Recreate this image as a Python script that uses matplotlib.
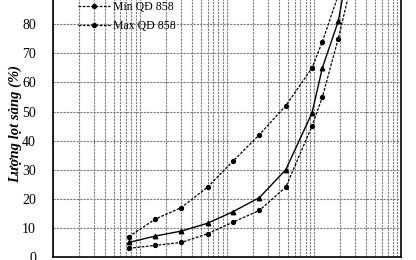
"""Grading curve (lượng lọt sàng) against the QĐ 858 envelope."""

import matplotlib
matplotlib.use("Agg")
import matplotlib.pyplot as plt

plt.rcParams["font.family"] = ["Liberation Serif", "DejaVu Serif"]

# sieve sizes (mm) and percent passing
sieve_mm = [0.075, 0.15, 0.3, 0.6, 1.18, 2.36, 4.75, 9.5, 12.5, 19, 25]
max_qd858 = [7, 13, 17, 24, 33, 42, 52, 65, 74, 90, 100]
mix_curve = [5, 7.2, 8.9, 11.6, 15.6, 20.4, 30, 49.5, 65, 81, 100]
min_qd858 = [3, 4, 5, 8, 12, 16, 24, 45, 55, 75, 90]
y_ticks = list(range(0, 101, 10))

fig = plt.figure(figsize=(4.16, 2.60), dpi=100)
# axes run past the top of the canvas: the source image is a crop
ax = fig.add_axes([0.1267, 0.0115, 0.8373, 1.1192])

dash = (0, (2.2, 1.2))
ax.plot(sieve_mm, min_qd858, color="black", lw=0.9, ls=dash, marker="o", ms=2.8,
        label="Min QĐ 858")
ax.plot(sieve_mm, max_qd858, color="black", lw=0.9, ls=dash, marker="o", ms=2.8,
        label="Max QĐ 858")
ax.plot(sieve_mm, mix_curve, color="black", lw=1.0, marker="^", ms=3.2)

ax.set_xscale("log")
ax.set_xlim(0.01, 100)
ax.set_ylim(0, 100)
ax.set_yticks(y_ticks)
ax.tick_params(axis="both", which="both", length=0, labelsize=10, pad=12)
ax.tick_params(axis="x", which="both", labelbottom=False)

ax.grid(True, which="both", axis="x", color="#7a7a7a", lw=0.8, ls=(0, (2, 1)))
ax.grid(True, which="major", axis="y", color="#7a7a7a", lw=0.8, ls=(0, (2, 1)))
ax.set_axisbelow(True)
for spine in ax.spines.values():
    spine.set_linewidth(1.2)

ax.set_ylabel("Lượng lọt sàng (%)", fontsize=10.5, fontweight="bold", fontstyle="italic")
ax.yaxis.set_label_coords(-0.088, 0.457)

ax.legend(loc="lower left", bbox_to_anchor=(0.1875, 0.878), bbox_transform=fig.transFigure,
          frameon=False, fontsize=8.5, handlelength=2.7, handletextpad=0.3,
          labelspacing=0.55, borderpad=0, borderaxespad=0)

fig.savefig("out.png", dpi=100)
